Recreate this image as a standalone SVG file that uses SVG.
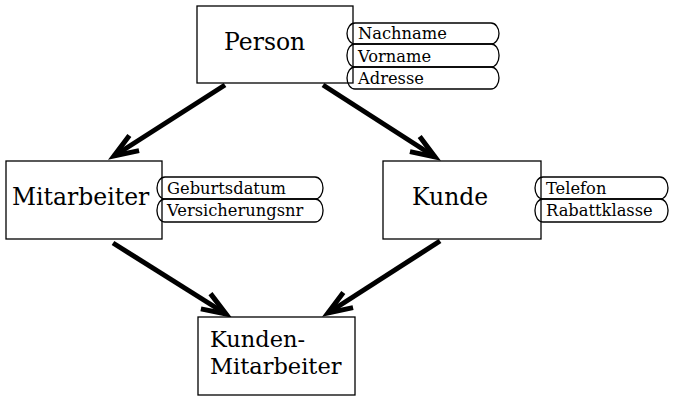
<svg xmlns="http://www.w3.org/2000/svg" width="679" height="396" viewBox="0 0 679 396">
<style>
.box{fill:#fff;stroke:#000;stroke-width:1.3}
.pill{fill:none;stroke:#000;stroke-width:1.3}
.big{font-family:"DejaVu Serif","Liberation Serif",serif;font-size:23.5px;fill:#000}
.km{font-size:22.5px}
.attr{font-family:"DejaVu Serif","Liberation Serif",serif;font-size:16.3px;fill:#000}
.edge{stroke:#000;stroke-width:5;fill:none;marker-end:url(#arr)}
</style>
<defs>
<marker id="arr" markerUnits="userSpaceOnUse" markerWidth="40" markerHeight="40" refX="0" refY="0" viewBox="-30 -20 40 40" orient="auto">
<path d="M-24,-9 L0,0 L-24,9" fill="none" stroke="#000" stroke-width="5"/>
</marker>
</defs>
<g id="connectors">
<line class="edge" x1="225" y1="85" x2="114" y2="156"/>
<line class="edge" x1="323" y1="85" x2="435" y2="157"/>
<line class="edge" x1="113" y1="243" x2="226" y2="314"/>
<line class="edge" x1="440" y1="241" x2="328" y2="313"/>
</g>
<g id="person">
<rect class="box" x="197" y="6" width="156" height="77"/>
<rect class="pill" x="347" y="23" width="152" height="21" rx="8" ry="10.5"/>
<rect class="pill" x="347" y="44" width="152" height="23" rx="8" ry="11"/>
<rect class="pill" x="347" y="67" width="152" height="22" rx="8" ry="11"/>
<text class="big" x="224" y="50">Person</text>
<text class="attr" x="358" y="39">Nachname</text>
<text class="attr" x="358" y="62">Vorname</text>
<text class="attr" x="358" y="84">Adresse</text>
</g>
<g id="mitarbeiter">
<rect class="box" x="6" y="161" width="156" height="78"/>
<rect class="pill" x="157" y="177" width="166" height="22" rx="8" ry="11"/>
<rect class="pill" x="157" y="199" width="166" height="23" rx="8" ry="11"/>
<text class="big" x="12" y="205">Mitarbeiter</text>
<text class="attr" x="167" y="194">Geburtsdatum</text>
<text class="attr" x="167" y="216">Versicherungsnr</text>
</g>
<g id="kunde">
<rect class="box" x="383" y="161" width="158" height="78"/>
<rect class="pill" x="535" y="177" width="133" height="22" rx="8" ry="11"/>
<rect class="pill" x="535" y="199" width="133" height="23" rx="8" ry="11"/>
<text class="big" x="412" y="205">Kunde</text>
<text class="attr" x="546" y="194">Telefon</text>
<text class="attr" x="546" y="216">Rabattklasse</text>
</g>
<g id="kunden-mitarbeiter">
<rect class="box" x="198" y="317" width="157" height="78"/>
<text class="big km" x="210" y="347">Kunden-</text>
<text class="big km" x="210" y="374">Mitarbeiter</text>
</g>
</svg>
